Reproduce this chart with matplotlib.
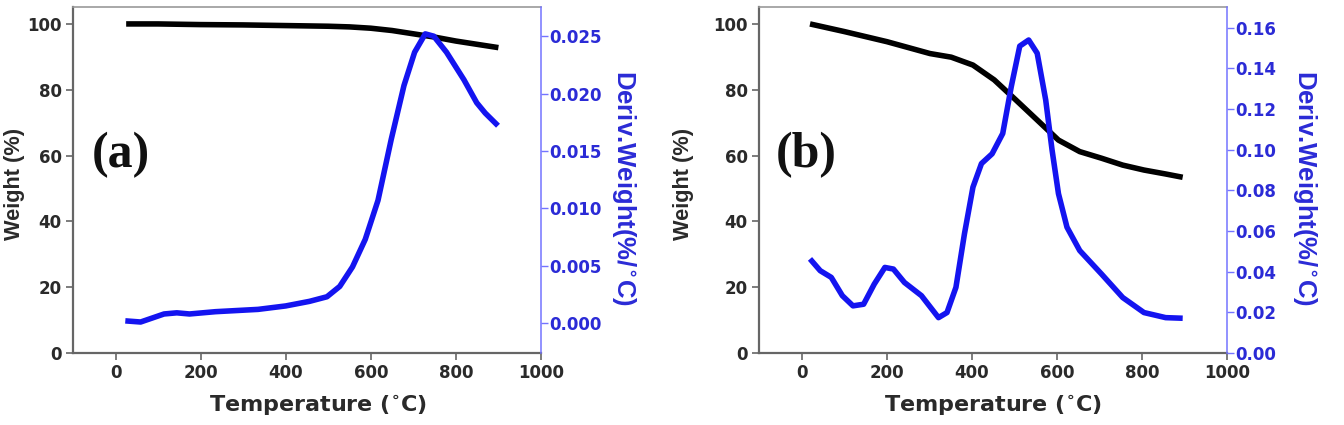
import matplotlib
matplotlib.use("Agg")
import matplotlib.pyplot as plt

# ---------------- data ----------------
# Panel (a)
a_temp_w = [25, 100, 200, 300, 400, 500, 550, 600, 650, 700, 750, 800, 850, 900]
a_weight = [100, 100, 99.8, 99.7, 99.5, 99.3, 99.1, 98.7, 98.0, 97.0, 96.0, 94.8, 93.8, 92.8]
a_temp_d = [23, 59, 114, 144, 174, 235, 335, 400, 456, 497, 527, 557, 587, 617, 648,
            678, 703, 728, 748, 778, 819, 849, 869, 899]
a_deriv = [0.0002, 0.0001, 0.0008, 0.0009, 0.0008, 0.0010, 0.0012, 0.0015, 0.0019, 0.0023,
           0.0032, 0.0049, 0.0073, 0.0107, 0.0160, 0.0207, 0.0236, 0.0252, 0.0250, 0.0236,
           0.0212, 0.0192, 0.0183, 0.0172]

# Panel (b)
b_temp_w = [20, 100, 201, 302, 352, 403, 453, 503, 554, 604, 654, 705, 755, 805, 856, 896]
b_weight = [100, 97.7, 94.6, 91.0, 89.9, 87.5, 83.0, 77.0, 70.8, 64.7, 61.2, 59.2, 57.1,
            55.6, 54.4, 53.4]
b_temp_d = [20, 44, 70, 96, 121, 146, 171, 196, 216, 242, 282, 322, 342, 363, 383, 403,
            423, 448, 473, 493, 513, 534, 554, 574, 589, 604, 624, 654, 705, 755, 805,
            856, 896]
b_deriv = [0.0463, 0.0405, 0.0372, 0.0282, 0.0232, 0.0240, 0.0339, 0.0421, 0.0413, 0.0347,
           0.0282, 0.0174, 0.0199, 0.0323, 0.0586, 0.0816, 0.0932, 0.0980, 0.1080, 0.1310,
           0.1510, 0.1540, 0.1475, 0.1245, 0.0998, 0.0784, 0.0619, 0.0504, 0.0389, 0.0273,
           0.0199, 0.0174, 0.0171]

x_ticks = [0, 200, 400, 600, 800, 1000]
w_ticks = [0, 20, 40, 60, 80, 100]
a_d_ticks = [0.000, 0.005, 0.010, 0.015, 0.020, 0.025]
b_d_ticks = [0.00, 0.02, 0.04, 0.06, 0.08, 0.10, 0.12, 0.14, 0.16]

BLUE = "#1414f0"
TBLUE = "#2b2bd6"
SPBLUE = "#7474ff"
DARK = "#2a2a2a"

fig = plt.figure(figsize=(13.44, 4.25), dpi=100)


def panel(rect, tw, w, td, d, dticks, dfmt, dlim, label, lx,
          wl_x, dl_x, tl_x):
    ax = fig.add_axes(rect)
    ax2 = ax.twinx()
    ax.plot(tw, w, color="black", lw=4, solid_capstyle="butt", zorder=3)
    ax2.plot(td, d, color=BLUE, lw=4, solid_capstyle="butt")
    ax.set_xlim(-100, 1000)
    ax.set_ylim(0, 105)
    ax2.set_ylim(*dlim)
    ax.set_xticks(x_ticks)
    ax.set_yticks(w_ticks)
    ax2.set_yticks(dticks)
    ax2.set_yticklabels([dfmt.format(v) for v in dticks])
    for t in ax.get_xticklabels() + ax.get_yticklabels():
        t.set_fontfamily("DejaVu Sans"); t.set_fontweight("bold"); t.set_fontsize(12)
        t.set_color(DARK)
    for t in ax2.get_yticklabels():
        t.set_fontfamily("DejaVu Sans"); t.set_fontweight("bold"); t.set_fontsize(12)
        t.set_color(TBLUE)
    ax.tick_params(axis="x", direction="out", length=5, width=1.2, color="#666666", pad=3)
    ax.tick_params(axis="y", direction="out", length=5, width=1.2, color="#666666", pad=3)
    ax2.tick_params(axis="y", direction="out", length=5, width=1, color=SPBLUE, pad=1)
    for s in ("left", "bottom"):
        ax.spines[s].set_color("#666666"); ax.spines[s].set_linewidth(1.6)
    ax.spines["top"].set_color("#999999"); ax.spines["top"].set_linewidth(1.2)
    ax.spines["right"].set_visible(False)
    ax2.spines["right"].set_color(SPBLUE); ax2.spines["right"].set_linewidth(1.1)
    for s in ("top", "left", "bottom"):
        ax2.spines[s].set_visible(False)

    ax.set_xlabel("Temperature ($\\mathbf{^{\\circ}}$C)", fontfamily="DejaVu Sans",
                  fontweight="bold", fontsize=16, color=DARK, va="center")
    ax.xaxis.set_label_coords(tl_x, -0.153)
    ax.set_ylabel("Weight (%)", fontfamily="Liberation Sans", fontweight="bold",
                  fontsize=15.7, color=DARK, va="center")
    ax.yaxis.set_label_coords(wl_x, 0.49)
    ax2.set_ylabel("Deriv.Weight(%/$\\mathbf{^{\\circ}}$C)", fontfamily="Liberation Sans",
                   fontweight="bold", fontsize=18.5, color=TBLUE, rotation=270, va="center")
    ax2.yaxis.set_label_coords(dl_x, 0.478)
    ax.text(lx, 60, label, fontfamily="Liberation Serif", fontweight="bold", fontsize=36,
            ha="left", va="center", color="#111111")
    return ax, ax2


panel([0.0543, 0.1694, 0.3482, 0.813], a_temp_w, a_weight, a_temp_d, a_deriv,
      a_d_ticks, "{:.3f}", (-0.0026, 0.0275), "(a)", -56, -0.126, 1.177, 0.523)
panel([0.5647, 0.1694, 0.3482, 0.813], b_temp_w, b_weight, b_temp_d, b_deriv,
      b_d_ticks, "{:.2f}", (0.0, 0.17), "(b)", -61, -0.162, 1.165, 0.5)

fig.savefig("out.png", dpi=100)
